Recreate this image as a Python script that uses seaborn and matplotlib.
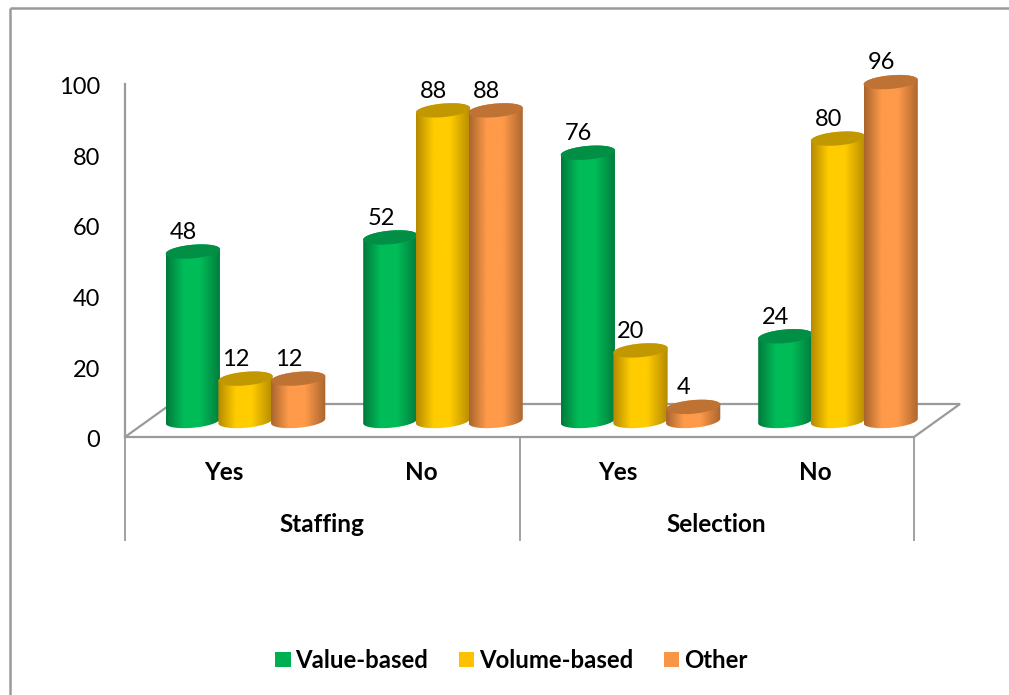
import numpy as np
import pandas as pd
import matplotlib
matplotlib.use("Agg")
import matplotlib.pyplot as plt
from matplotlib.colors import LinearSegmentedColormap
from matplotlib.lines import Line2D
from matplotlib.path import Path
from matplotlib.transforms import ScaledTranslation
import seaborn as sns

groups = ["Staffing", "Selection"]
answers = ["Yes", "No", "Yes", "No"]
slots = ["Staffing Yes", "Staffing No", "Selection Yes", "Selection No"]
value_based = [48, 52, 76, 24]
volume_based = [12, 88, 20, 80]
other = [12, 88, 4, 96]
series_names = ["Value-based", "Volume-based", "Other"]
legend_colors = ["#00B050", "#FFC000", "#F79646"]
edge_colors = ["#007A3C", "#B58A00", "#A9652E"]
light_colors = ["#00BC58", "#FFCC00", "#FF9A4A"]
cap_colors = ["#008F45", "#C29800", "#BE7234"]
y_ticks = [0, 20, 40, 60, 80, 100]

W, H = 1009, 695
PX_PER_UNIT = 3.53
GRAY = "#9A9A9A"
TEXT = "#000000"

sns.set_theme(style="white")
plt.rcParams["font.family"] = ["Lato", "DejaVu Sans"]

fig = plt.figure(figsize=(W / 100, H / 100), dpi=100, facecolor="white")


def axes_px(left, top, right, bottom):
    return fig.add_axes([left / W, 1 - bottom / H, (right - left) / W, (bottom - top) / H],
                        facecolor="none")


def fig_line(xs, ys, lw=1.6, z=-1):
    fig.add_artist(Line2D([x / W for x in xs], [1 - y / H for y in ys],
                          color=GRAY, lw=lw, zorder=z, solid_capstyle="butt",
                          solid_joinstyle="miter", transform=fig.transFigure))


# outer frame and chart floor
fig_line([10, 10], [8, 695], lw=1.8)
fig_line([10, 1009], [8, 8], lw=1.8)
fig_line([125, 171, 960, 914], [437, 404, 404, 437])

# front plane: value axis and two-level category axis
front = axes_px(125, 84, 914, 437)
front.set_xlim(-0.5, 3.5)
front.set_ylim(0, 100)
front.set_yticks(y_ticks)
front.set_xticks(range(len(answers)))
front.set_xticklabels(answers, fontsize=17.5, fontweight="bold", color=TEXT)
front.tick_params(axis="y", length=0, pad=18, labelsize=17, labelcolor=TEXT)
front.tick_params(axis="x", length=0, pad=17.5)
for lbl in front.get_yticklabels():
    lbl.set_transform(lbl.get_transform() + ScaledTranslation(0, -1.2 / 72, fig.dpi_scale_trans))
for side in ["top", "right"]:
    front.spines[side].set_visible(False)
for side in ["left", "bottom"]:
    front.spines[side].set_color(GRAY)
    front.spines[side].set_linewidth(1.6)
low = -104 / PX_PER_UNIT
front.vlines([-0.5, 1.5, 3.5], low, 0, color=GRAY, lw=1.3, clip_on=False)
for i, g in enumerate(groups):
    front.text(0.5 + 2 * i, -88 / PX_PER_UNIT, g, ha="center", va="center",
               fontsize=17.5, fontweight="bold", color=TEXT)

# bars: seaborn draws them, each one is then shaded as a cylinder
ax = axes_px(146.75, 421 - 105 * PX_PER_UNIT, 936.75, 421 + 20 * PX_PER_UNIT)
df = pd.DataFrame({
    "slot": slots * 3,
    "series": np.repeat(series_names, len(slots)),
    "value": value_based + volume_based + other,
})
sns.barplot(data=df, x="slot", y="value", hue="series", order=slots, hue_order=series_names,
            palette=legend_colors, saturation=1, width=0.8, gap=0, ax=ax, legend=False)
ax.set_xlim(-0.5, 3.5)
ax.set_ylim(-20, 105)
ax.axis("off")

xscale = (936.75 - 146.75) / 4
ry = 6.8 / PX_PER_UNIT
shear = 0.085 * xscale / PX_PER_UNIT
n_per = len(slots)
bars = list(ax.patches)
xlim, ylim = ax.get_xlim(), ax.get_ylim()
t = np.linspace(0, np.pi, 60)
for k, bar in enumerate(bars):
    s = k // n_per
    x0, w, h = bar.get_x(), bar.get_width(), bar.get_height()
    xc = x0 + w / 2
    rx = w / 2 * 1.03
    bar.set_visible(False)
    cx = np.cos(t)
    sy = np.sin(t)
    # body outline: lower half of the base ellipse, then upper half of the top ellipse
    bx = xc - rx * cx
    by = 0 - ry * sy + shear * (bx - xc)
    tx = xc + rx * cx
    ty = h + ry * sy + shear * (tx - xc)
    verts = np.r_[np.c_[bx, by], np.c_[tx, ty], [[bx[0], by[0]]]]
    body = Path(verts, closed=True)
    cmap = LinearSegmentedColormap.from_list(
        "c", [(0, edge_colors[s]), (0.32, light_colors[s]), (0.62, light_colors[s]),
              (1, edge_colors[s])])
    im = ax.imshow(np.linspace(0, 1, 128)[None, :], cmap=cmap, aspect="auto",
                   extent=[xc - rx, xc + rx, -3 * ry, h + 3 * ry], zorder=3 + s,
                   interpolation="bilinear")
    im.set_clip_path(body, transform=ax.transData)
    # top cap
    theta = np.linspace(0, 2 * np.pi, 120)
    capx = xc + rx * np.cos(theta)
    capy = h + ry * np.sin(theta) + shear * (capx - xc)
    ax.fill(capx, capy, color=cap_colors[s], lw=0, zorder=3.5 + s)
    ax.annotate(f"{h:.0f}", (xc, h), xytext=(-6.8, 13.8), textcoords="offset points",
                ha="center", va="center", fontsize=17, color=TEXT, zorder=8,
                annotation_clip=False)
ax.set_xlim(xlim)
ax.set_ylim(ylim)

handles = [plt.Rectangle((0, 0), 1, 1, color=c, lw=0) for c in legend_colors]
fig.legend(handles, series_names, loc="center", bbox_to_anchor=(511.5 / W, 1 - 660.5 / H), ncol=3,
           frameon=False, prop=dict(family="Lato", weight="bold", size=17.2),
           handlelength=0.63, handleheight=0.63, handletextpad=0.2, columnspacing=1.3,
           labelcolor=TEXT)

fig.savefig("out.png", dpi=100, facecolor="white")
